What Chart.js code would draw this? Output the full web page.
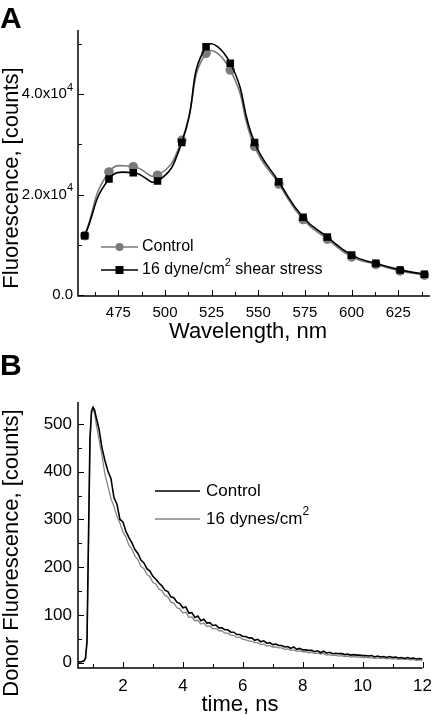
<!DOCTYPE html>
<html>
<head>
<meta charset="utf-8">
<script src="https://cdn.jsdelivr.net/npm/chart.js@4.4.0/dist/chart.umd.min.js"></script>
<style>
  html, body { margin: 0; padding: 0; background: #fff; }
  #wrapA { position: absolute; left: 0; top: 0; width: 440px; height: 345px; }
  #wrapB { position: absolute; left: 0; top: 345px; width: 440px; height: 370px; }
</style>
</head>
<body>
<div id="wrapA"><canvas id="chartA"></canvas></div>
<div id="wrapB"><canvas id="chartB"></canvas></div>
<script>
// panel A - emission spectra
const wavelengths = [457, 470, 483, 496, 509, 522, 535, 548, 561, 574, 587, 600, 613, 626, 639];
const controlSpectrum = [11800, 24500, 25550, 23850, 30800, 48200, 44850, 29600, 22100, 15000, 11100, 7550, 6050, 4750, 3900];
const shearSpectrum = [11750, 23100, 24350, 22700, 30400, 49500, 46200, 30400, 22550, 15450, 11500, 7900, 6250, 4950, 4070];
const wlTicks = [475, 500, 525, 550, 575, 600, 625];
const wlMinor = [462.5, 487.5, 512.5, 537.5, 562.5, 587.5, 612.5, 637.5];
const specTicks = [0, 20000, 40000];
const specMinor = [10000, 30000, 50000];
// tick text split in base + superscript
const specLabels = [['0.0', ''], ['2.0x10', '4'], ['4.0x10', '4']];

// panel B - donor fluorescence decay
const times = [
  0.5, 0.6, 0.7, 0.75, 0.8, 0.85, 0.9, 0.95, 1.0, 1.05,
  1.1, 1.2, 1.3, 1.4, 1.5, 1.6, 1.7, 1.8, 1.9, 2.0,
  2.1, 2.2, 2.3, 2.4, 2.5, 2.6, 2.7, 2.8, 2.9, 3.0,
  3.1, 3.2, 3.3, 3.4, 3.5, 3.6, 3.7, 3.8, 3.9, 4.0,
  4.1, 4.2, 4.3, 4.4, 4.5, 4.6, 4.7, 4.8, 4.9, 5.0,
  5.1, 5.2, 5.3, 5.4, 5.5, 5.6, 5.7, 5.8, 5.9, 6.0,
  6.1, 6.2, 6.3, 6.4, 6.5, 6.6, 6.7, 6.8, 6.9, 7.0,
  7.1, 7.2, 7.3, 7.4, 7.5, 7.6, 7.7, 7.8, 7.9, 8.0,
  8.1, 8.2, 8.3, 8.4, 8.5, 8.6, 8.7, 8.8, 8.9, 9.0,
  9.1, 9.2, 9.3, 9.4, 9.5, 9.6, 9.7, 9.8, 9.9, 10.0,
  10.1, 10.2, 10.3, 10.4, 10.5, 10.6, 10.7, 10.8, 10.9, 11.0,
  11.1, 11.2, 11.3, 11.4, 11.5, 11.6, 11.7, 11.8, 11.9, 12.0
];
const controlDecay = [
  2, 2, 4, 10, 45, 260, 470, 527, 535, 530,
  516, 490, 450, 423, 401, 386, 346, 332, 300, 295,
  275, 262, 251, 237, 229, 215, 209, 197, 192, 181,
  175, 167, 161, 152, 149, 138, 136, 127, 124, 115,
  117, 104, 105, 95, 98, 88, 91, 83, 84, 78,
  79, 73, 73, 69, 69, 64, 64, 59, 59, 55,
  55, 52, 52, 47, 49, 44, 46, 41, 42, 38,
  39, 36, 36, 33, 34, 30, 33, 28, 30, 27,
  27, 26, 26, 23, 25, 21, 24, 20, 22, 19,
  20, 19, 19, 17, 18, 16, 17, 16, 16, 15,
  15, 14, 15, 12, 14, 12, 13, 11, 13, 11,
  12, 10, 11, 9, 11, 9, 10, 8, 9, 8
];
const dynesDecay = [
  1, 1, 3, 8, 40, 250, 462, 522, 532, 522,
  503, 468, 434, 394, 370, 344, 327, 307, 292, 274,
  263, 246, 238, 223, 216, 202, 197, 185, 180, 168,
  165, 154, 151, 141, 138, 127, 125, 115, 113, 104,
  106, 95, 96, 88, 89, 81, 83, 76, 77, 71,
  72, 67, 67, 62, 62, 58, 57, 53, 53, 49,
  48, 46, 45, 42, 42, 38, 39, 35, 36, 33,
  33, 31, 31, 28, 29, 26, 27, 24, 25, 23,
  23, 21, 22, 19, 20, 18, 19, 16, 17, 15,
  16, 14, 15, 13, 14, 12, 13, 12, 12, 11,
  11, 11, 10, 9, 10, 9, 10, 8, 9, 8,
  8, 7, 8, 7, 7, 6, 7, 5, 6, 5
];
const timeTicks = [2, 4, 6, 8, 10, 12];
const timeMinor = [1, 3, 5, 7, 9, 11];
const countTicks = [0, 100, 200, 300, 400, 500];
const countMinor = [50, 150, 250, 350, 450];

const FONT = 'Arial, "Liberation Sans", Helvetica, sans-serif';
const GRAY = '#7a7a7a';

// text with a raised smaller part, e.g. "10" + "4" or "cm" + "2"
function drawSup(ctx, base, sup, tail, x, y, size, align) {
  ctx.font = size + 'px ' + FONT;
  const wb = ctx.measureText(base).width;
  ctx.font = Math.round(size * 0.7) + 'px ' + FONT;
  const ws = ctx.measureText(sup).width;
  ctx.font = size + 'px ' + FONT;
  const wt = ctx.measureText(tail).width;
  const total = wb + ws + wt;
  let x0 = x;
  if (align === 'right') x0 = x - total;
  ctx.textAlign = 'left';
  ctx.textBaseline = 'middle';
  ctx.fillText(base, x0, y);
  if (sup) {
    ctx.font = Math.round(size * 0.7) + 'px ' + FONT;
    ctx.fillText(sup, x0 + wb, y - size * 0.42);
    ctx.font = size + 'px ' + FONT;
  }
  if (tail) ctx.fillText(tail, x0 + wb + ws, y);
}

// axes, inward ticks, titles, panel letter and legend drawn by hand
const decor = {
  id: 'decor',
  afterDraw(chart, args, o) {
    const ctx = chart.ctx;
    const a = chart.chartArea;
    const xs = chart.scales.x, ys = chart.scales.y;
    ctx.save();
    ctx.strokeStyle = '#000';
    ctx.lineWidth = 1.5;
    ctx.beginPath();
    ctx.moveTo(a.left, a.top);
    ctx.lineTo(a.left, a.bottom);
    ctx.lineTo(a.right, a.bottom);
    ctx.stroke();

    ctx.lineWidth = 1;
    ctx.beginPath();
    o.xMajor.forEach(v => { const p = Math.round(xs.getPixelForValue(v)) + 0.5; ctx.moveTo(p, a.bottom); ctx.lineTo(p, a.bottom - 6); });
    o.xMinor.forEach(v => { const p = Math.round(xs.getPixelForValue(v)) + 0.5; ctx.moveTo(p, a.bottom); ctx.lineTo(p, a.bottom - 4); });
    o.yMajor.forEach(v => { const p = Math.round(ys.getPixelForValue(v)) + 0.5; ctx.moveTo(a.left, p); ctx.lineTo(a.left + 6, p); });
    o.yMinor.forEach(v => { const p = Math.round(ys.getPixelForValue(v)) + 0.5; ctx.moveTo(a.left, p); ctx.lineTo(a.left + 4, p); });
    ctx.stroke();

    ctx.fillStyle = '#000';
    // y tick labels with superscripts (panel A only)
    if (o.yLabels) {
      o.yMajor.forEach((v, i) => {
        const p = ys.getPixelForValue(v);
        drawSup(ctx, o.yLabels[i][0], o.yLabels[i][1], '', a.left - 5, p, o.yLabelSize, 'right');
      });
    }

    // panel letter
    ctx.font = 'bold 30px ' + FONT;
    ctx.textAlign = 'left';
    ctx.textBaseline = 'alphabetic';
    ctx.fillText(o.letter, 0, o.letterY);

    // axis titles
    ctx.font = o.titleSize + 'px ' + FONT;
    ctx.textAlign = 'center';
    ctx.textBaseline = 'middle';
    ctx.fillText(o.xTitle, o.xTitleX, o.xTitleY);
    ctx.save();
    ctx.translate(o.yTitleX, o.yTitleY);
    ctx.rotate(-Math.PI / 2);
    ctx.fillText(o.yTitle, 0, 0);
    ctx.restore();

    // legend inside the plot
    o.legend.forEach(e => {
      ctx.strokeStyle = e.color;
      ctx.lineWidth = e.width;
      ctx.beginPath();
      ctx.moveTo(o.legX0, e.y);
      ctx.lineTo(o.legX1, e.y);
      ctx.stroke();
      ctx.fillStyle = e.color;
      const mx = (o.legX0 + o.legX1) / 2;
      if (e.marker === 'circle') {
        ctx.beginPath(); ctx.arc(mx, e.y, 4, 0, Math.PI * 2); ctx.fill();
      } else if (e.marker === 'rect') {
        ctx.fillRect(mx - 4, e.y - 4, 8, 8);
      }
      ctx.fillStyle = '#000';
      drawSup(ctx, e.text[0], e.text[1], e.text[2], o.legTextX, e.y, o.legendSize, 'left');
    });
    ctx.restore();
  }
};

function setTicks(list) {
  return scale => { scale.ticks = list.map(v => ({ value: v })); };
}

// ---- chart A ----
new Chart(document.getElementById('chartA'), {
  type: 'line',
  data: {
    datasets: [{
      label: '16 dyne/cm² shear stress',
      data: wavelengths.map((w, i) => ({ x: w, y: shearSpectrum[i] })),
      borderColor: '#000',
      backgroundColor: '#000',
      borderWidth: 1.6,
      pointStyle: 'rect',
      pointRadius: 4.2,
      tension: 0.5
    }, {
      label: 'Control',
      data: wavelengths.map((w, i) => ({ x: w, y: controlSpectrum[i] })),
      borderColor: GRAY,
      backgroundColor: GRAY,
      borderWidth: 1.6,
      pointStyle: 'circle',
      pointRadius: 4,
      tension: 0.5
    }]
  },
  options: {
    responsive: true,
    maintainAspectRatio: false,
    animation: false,
    devicePixelRatio: 1,
    layout: { padding: { left: 0, right: 10, top: 30, bottom: 0 } },
    plugins: {
      legend: { display: false },
      tooltip: { enabled: false },
      decor: {
        letter: 'A', letterY: 28,
        xMajor: wlTicks, xMinor: wlMinor, yMajor: specTicks, yMinor: specMinor,
        yLabels: specLabels, yLabelSize: 15,
        titleSize: 22,
        xTitle: 'Wavelength, nm', xTitleX: 248, xTitleY: 332,
        yTitle: 'Fluorescence, [counts]', yTitleX: 12, yTitleY: 178,
        legendSize: 16, legX0: 101, legX1: 138, legTextX: 142,
        legend: [
          { text: ['Control', '', ''], color: GRAY, width: 1.6, marker: 'circle', y: 247 },
          { text: ['16 dyne/cm', '2', ' shear stress'], color: '#000', width: 1.6, marker: 'rect', y: 270 }
        ]
      }
    },
    scales: {
      x: {
        type: 'linear', min: 453.4, max: 642,
        afterBuildTicks: setTicks(wlTicks),
        afterFit: s => { s.height = 49; },
        grid: { display: false, drawTicks: false },
        border: { display: false },
        ticks: { autoSkip: false, maxRotation: 0, padding: 8, color: '#000', font: { family: FONT, size: 15 } }
      },
      y: {
        min: -260, max: 52840,
        afterBuildTicks: setTicks(specTicks),
        afterFit: s => { s.width = 78; },
        grid: { display: false, drawTicks: false },
        border: { display: false },
        ticks: { display: false }
      }
    }
  },
  plugins: [decor]
});

// ---- chart B ----
new Chart(document.getElementById('chartB'), {
  type: 'line',
  data: {
    datasets: [{
      label: 'Control',
      data: times.map((t, i) => ({ x: t, y: controlDecay[i] })),
      borderColor: '#000',
      borderWidth: 1.6,
      pointRadius: 0,
      tension: 0
    }, {
      label: '16 dynes/cm²',
      data: times.map((t, i) => ({ x: t, y: dynesDecay[i] })),
      borderColor: '#858585',
      borderWidth: 1.3,
      pointRadius: 0,
      tension: 0
    }]
  },
  options: {
    responsive: true,
    maintainAspectRatio: false,
    animation: false,
    devicePixelRatio: 1,
    layout: { padding: { left: 0, right: 10, top: 57, bottom: 0 } },
    plugins: {
      legend: { display: false },
      tooltip: { enabled: false },
      decor: {
        letter: 'B', letterY: 30,
        xMajor: timeTicks, xMinor: timeMinor, yMajor: countTicks, yMinor: countMinor,
        titleSize: 22,
        xTitle: 'time, ns', xTitleX: 240, xTitleY: 360,
        yTitle: 'Donor Fluorescence, [counts]', yTitleX: 12, yTitleY: 208,
        legendSize: 17, legX0: 155, legX1: 200, legTextX: 206,
        legend: [
          { text: ['Control', '', ''], color: '#000', width: 1.6, marker: null, y: 146 },
          { text: ['16 dynes/cm', '2', ''], color: '#858585', width: 1.3, marker: null, y: 174 }
        ]
      }
    },
    scales: {
      x: {
        type: 'linear', min: 0.5, max: 12,
        afterBuildTicks: setTicks(timeTicks),
        afterFit: s => { s.height = 47; },
        grid: { display: false, drawTicks: false },
        border: { display: false },
        ticks: { autoSkip: false, maxRotation: 0, padding: 8, color: '#000', font: { family: FONT, size: 17 } }
      },
      y: {
        min: -11, max: 546,
        afterBuildTicks: setTicks(countTicks),
        afterFit: s => { s.width = 78; },
        grid: { display: false, drawTicks: false },
        border: { display: false },
        ticks: { autoSkip: false, padding: 6, color: '#000', font: { family: FONT, size: 17 } }
      }
    }
  },
  plugins: [decor]
});
</script>
</body>
</html>
